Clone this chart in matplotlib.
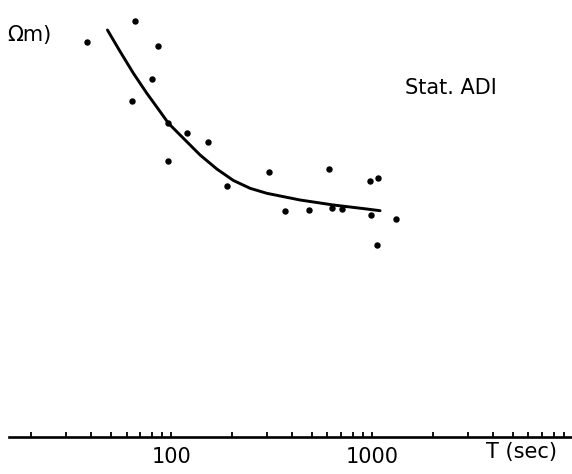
import numpy as np
import matplotlib
matplotlib.use('Agg')
from matplotlib import pyplot as plt
from matplotlib.ticker import FixedLocator, NullFormatter

# measured points, station ADI (period in s, apparent resistivity)
T_obs = [38.3, 66.4, 86.5, 80.2, 63.7, 97.0, 119.7, 153.3, 96.3, 306, 189,
         367, 488, 613, 635, 709, 977, 1068, 985, 1316, 1055]
rho_obs = [395, 416, 391, 358, 336, 314, 304, 295, 276, 265, 251,
           226, 227, 268, 229, 228, 256, 259, 222, 218, 192]

# model curve
T_fit = [48.2, 55.8, 64.9, 75.7, 88.2, 97.0, 115.1, 139.4, 168.8, 204.2,
         247.2, 299.3, 438.4, 642, 941, 1096]
rho_fit = [407, 385.3, 363.7, 343.7, 325.3, 313.7, 298.7, 282, 268, 256.5,
           248.7, 243.7, 237, 232, 228, 226.3]

major = [100, 1000]
minor = [20, 30, 40, 50, 60, 70, 80, 90,
         200, 300, 400, 500, 600, 700, 800, 900,
         2000, 3000, 4000, 5000, 6000, 7000, 8000, 9000]

fig = plt.figure(figsize=(5.72, 4.74), dpi=100)
ax = fig.add_axes([9/572, 37/474, 1 - 9/572, 1 - 37/474])

ax.plot(T_fit, rho_fit, color='black', lw=2.1, solid_capstyle='round',
        solid_joinstyle='round')
ax.plot(T_obs, rho_obs, 'o', color='black', ms=3.6)

ax.set_xscale('log')
ax.set_xlim(15.6, 9886)
ax.set_ylim(0, 437)

for s in ['left', 'right', 'top']:
    ax.spines[s].set_visible(False)
ax.spines['bottom'].set_linewidth(1.9)
ax.set_yticks([])

ax.xaxis.set_major_locator(FixedLocator(major))
ax.xaxis.set_minor_locator(FixedLocator(minor))
ax.xaxis.set_minor_formatter(NullFormatter())
ax.set_xticklabels(['100', '1000'])
ax.tick_params(axis='x', which='both', direction='in', length=3.5, width=1.3,
               labelsize=15, pad=7)

fig.text(7/572, 1 - 35/474, 'Ωm)', fontsize=15, va='center', ha='left')
fig.text(451/572, 1 - 88/474, 'Stat. ADI', fontsize=15, va='center', ha='center')
fig.text(521/572, 1 - 452/474, 'T (sec)', fontsize=15, va='center', ha='center')

fig.savefig('out.png', dpi=100)
